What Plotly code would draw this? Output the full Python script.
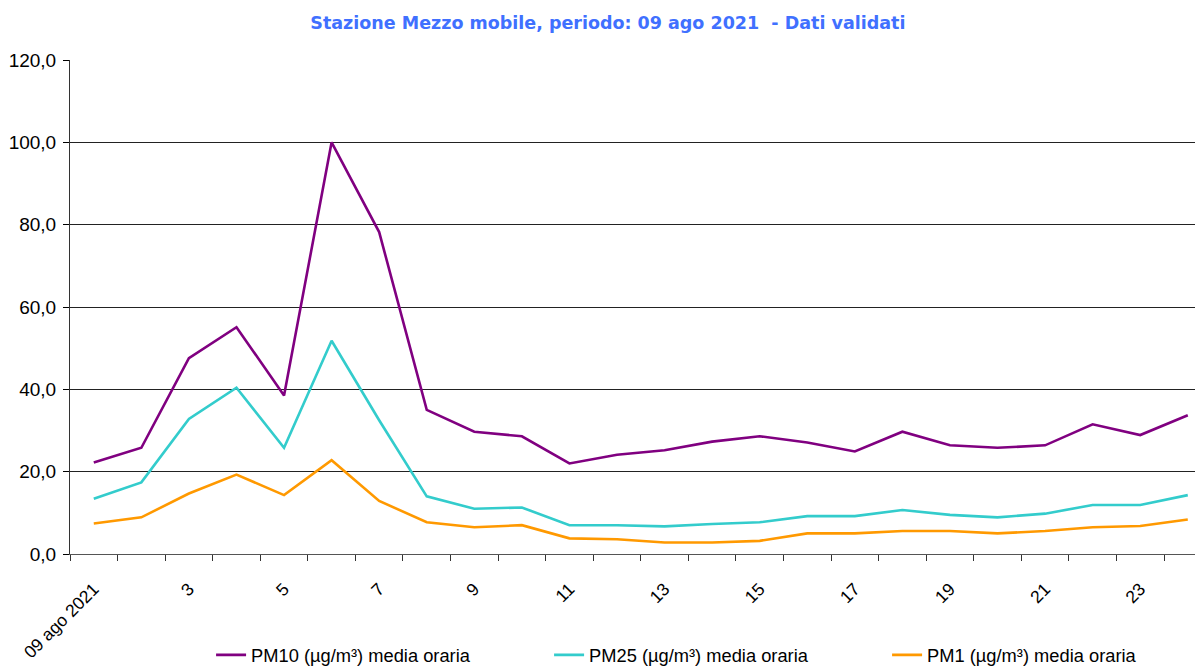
import plotly.graph_objects as go

hours = list(range(1, 25))
tick_positions = [1, 3, 5, 7, 9, 11, 13, 15, 17, 19, 21, 23]
tick_labels = ["09 ago 2021", "3", "5", "7", "9", "11", "13", "15", "17", "19", "21", "23"]

pm10 = [22.2, 25.8, 47.6, 55.1, 38.5, 100.0, 78.2, 35.0, 29.7, 28.6, 22.0, 24.1,
        25.2, 27.3, 28.6, 27.1, 24.9, 29.7, 26.4, 25.8, 26.4, 31.5, 28.9, 33.7]
pm25 = [13.4, 17.4, 32.8, 40.4, 25.8, 51.8, 32.5, 14.0, 11.0, 11.3, 7.0, 7.0,
        6.7, 7.3, 7.7, 9.2, 9.2, 10.7, 9.5, 8.9, 9.8, 11.9, 11.9, 14.3]
pm1 = [7.4, 8.9, 14.7, 19.3, 14.3, 22.8, 12.9, 7.7, 6.5, 7.0, 3.8, 3.6,
       2.8, 2.8, 3.2, 5.0, 5.0, 5.6, 5.6, 5.0, 5.6, 6.5, 6.8, 8.4]

series = [
    ("PM10 (µg/m³) media oraria", pm10, "#800080"),
    ("PM25 (µg/m³) media oraria", pm25, "#33CCCC"),
    ("PM1 (µg/m³) media oraria", pm1, "#FF9900"),
]

fig = go.Figure()
for name, vals, col in series:
    fig.add_trace(go.Scatter(x=hours, y=vals, mode="lines", name=name,
                             line=dict(color=col, width=2.6)))

font_main = "Liberation Sans, Arial, sans-serif"

fig.update_layout(
    width=1195, height=658,
    margin=dict(l=62, r=0, t=52, b=112, autoexpand=False),
    paper_bgcolor="white", plot_bgcolor="white",
    separators=", ",
    title=dict(text="<b>Stazione Mezzo mobile, periodo: 09 ago 2021  - Dati validati</b>",
               x=0.502, xanchor="center", y=0.977, yanchor="middle",
               font=dict(family="DejaVu Sans, Verdana, sans-serif", size=17.5, color="#4070FF")),
    showlegend=True,
    legend=dict(orientation="h", x=0.572, xanchor="center", y=-0.2045, yanchor="middle",
                font=dict(family=font_main, size=18.3, color="black"),
                entrywidth=293, itemwidth=30, bgcolor="rgba(0,0,0,0)"),
    font=dict(family=font_main, size=17, color="black"),
)

fig.update_xaxes(
    range=[0.5, 24.32], automargin=False,
    tickmode="array", tickvals=tick_positions, ticktext=tick_labels,
    tickangle=-45, ticks="outside", ticklen=17, tickcolor="rgba(0,0,0,0)",
    tickfont=dict(family=font_main, size=17.5, color="black"),
    showgrid=False, zeroline=False,
    showline=True, linecolor="#555555", linewidth=1,
    minor=dict(tickmode="array", tickvals=[h + 0.5 for h in range(0, 25)],
               ticks="outside", ticklen=6, tickcolor="#333333", tickwidth=1, showgrid=False),
)

fig.update_yaxes(
    range=[0, 120], automargin=False,
    tickmode="array", tickvals=[0, 20, 40, 60, 80, 100, 120],
    tickformat=".1f",
    ticks="outside", ticklen=6, tickcolor="black", ticklabelstandoff=3,
    tickfont=dict(family=font_main, size=19, color="black"),
    showgrid=True, gridcolor="#222222", gridwidth=1,
    zeroline=False, showline=True, linecolor="#333333", linewidth=1,
)

fig.write_html("out.html")
